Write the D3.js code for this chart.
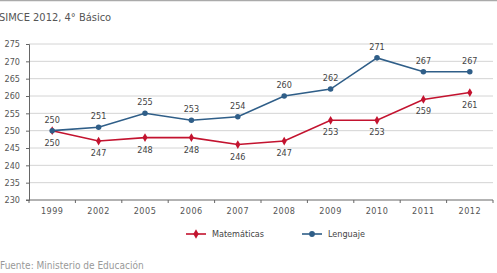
<!DOCTYPE html>
<html>
<head>
<meta charset="utf-8">
<script src="https://cdn.jsdelivr.net/npm/d3@7"></script>
<style>
  body { margin: 0; background: #fff; }
  text { font-family: "Liberation Sans Narrow", "DejaVu Sans Condensed", sans-serif; }
</style>
</head>
<body>
<div id="chart"></div>
<script>
// data
var years = ["1999", "2002", "2005", "2006", "2007", "2008", "2009", "2010", "2011", "2012"];
var matematicas = [250, 247, 248, 248, 246, 247, 253, 253, 259, 261];
var lenguaje = [250, 251, 255, 253, 254, 260, 262, 271, 267, 267];
var yTicks = [230, 235, 240, 245, 250, 255, 260, 265, 270, 275];

var W = 497, H = 273;
var margin = {top: 44, right: 4, bottom: 73, left: 29},
  width = W - margin.left - margin.right,
  height = H - margin.top - margin.bottom;

var red = "#c3132f", blue = "#2f5e88";

var svg = d3.select("#chart")
  .append("svg")
  .attr("width", W)
  .attr("height", H);

// thin rule on top + title
svg.append("line")
  .attr("x1", 0).attr("x2", W).attr("y1", 0.5).attr("y2", 0.5)
  .style("stroke", "#aaa").style("stroke-width", 1.5);
svg.append("text")
  .attr("x", -1).attr("y", 21)
  .style("font-family", "'DejaVu Sans Condensed', sans-serif")
  .style("font-size", "11px").style("fill", "#555")
  .text("SIMCE 2012, 4° Básico");

var g = svg.append("g")
  .attr("transform", "translate(" + margin.left + "," + margin.top + ")");

var x = d3.scaleBand().domain(years).range([0, width]);
var y = d3.scaleLinear().domain([230, 275]).range([height, 0]);

// gridlines
g.selectAll(".grid")
  .data(yTicks.slice(1))
  .enter().append("line")
  .attr("x1", 0).attr("x2", width)
  .attr("y1", function(d) { return y(d); })
  .attr("y2", function(d) { return y(d); })
  .style("stroke", "#d4d4d4").style("stroke-width", 1);

// y axis
var yAxis = g.append("g")
  .call(d3.axisLeft(y).tickValues(yTicks).tickSize(3).tickPadding(6));
yAxis.select(".domain").style("stroke", "#666");
yAxis.selectAll(".tick line").style("stroke", "#666");
yAxis.selectAll("text").style("font-size", "9px").style("fill", "#555");

// x axis with ticks between categories
var xAxis = g.append("g")
  .attr("transform", "translate(0," + height + ")")
  .call(d3.axisBottom(x).tickSize(0).tickPadding(8));
xAxis.select(".domain").remove();
xAxis.selectAll("text").style("font-size", "9px").style("fill", "#555")
  .style("letter-spacing", "0.5px");
g.append("line")
  .attr("x1", -3).attr("x2", width).attr("y1", height).attr("y2", height)
  .style("stroke", "#666");
g.selectAll(".xtick")
  .data(years.concat(["end"]))
  .enter().append("line")
  .attr("x1", function(d, i) { return i * x.step(); })
  .attr("x2", function(d, i) { return i * x.step(); })
  .attr("y1", height).attr("y2", height + 3)
  .style("stroke", "#666");

var line = d3.line()
  .x(function(d, i) { return x(years[i]) + x.bandwidth() / 2; })
  .y(function(d) { return y(d); });

function drawSeries(vals, color, marker, labelDy) {
  g.append("path")
    .datum(vals)
    .attr("d", line)
    .style("fill", "none").style("stroke", color).style("stroke-width", 1.6);
  g.selectAll(null)
    .data(vals)
    .enter().append("path")
    .attr("transform", function(d, i) {
      return "translate(" + (x(years[i]) + x.bandwidth() / 2) + "," + y(d) + ")";
    })
    .attr("d", d3.symbol().type(marker).size(marker === d3.symbolCircle ? 24 : 22))
    .style("fill", color);
  g.selectAll(null)
    .data(vals)
    .enter().append("text")
    .attr("x", function(d, i) { return x(years[i]) + x.bandwidth() / 2; })
    .attr("y", function(d) { return y(d) + labelDy; })
    .attr("text-anchor", "middle")
    .style("font-size", "9px").style("fill", "#444")
    .text(function(d) { return d; });
}

drawSeries(matematicas, red, d3.symbolDiamond, 15);
drawSeries(lenguaje, blue, d3.symbolCircle, -8);

// legend
var legend = [
  {name: "Matemáticas", color: red, marker: d3.symbolDiamond, x: 186},
  {name: "Lenguaje", color: blue, marker: d3.symbolCircle, x: 302}
];
legend.forEach(function(l) {
  svg.append("line")
    .attr("x1", l.x).attr("x2", l.x + 20).attr("y1", 234).attr("y2", 234)
    .style("stroke", l.color).style("stroke-width", 1.6);
  svg.append("path")
    .attr("transform", "translate(" + (l.x + 10) + ",234)")
    .attr("d", d3.symbol().type(l.marker).size(26))
    .style("fill", l.color);
  svg.append("text")
    .attr("x", l.x + 26).attr("y", 237)
    .style("font-size", "9px").style("fill", "#444")
    .text(l.name);
});

// source
svg.append("text")
  .attr("x", 0).attr("y", 269)
  .style("font-family", "'DejaVu Sans Condensed', sans-serif")
  .style("font-size", "10px").style("fill", "#999")
  .text("Fuente: Ministerio de Educación");
</script>
</body>
</html>
